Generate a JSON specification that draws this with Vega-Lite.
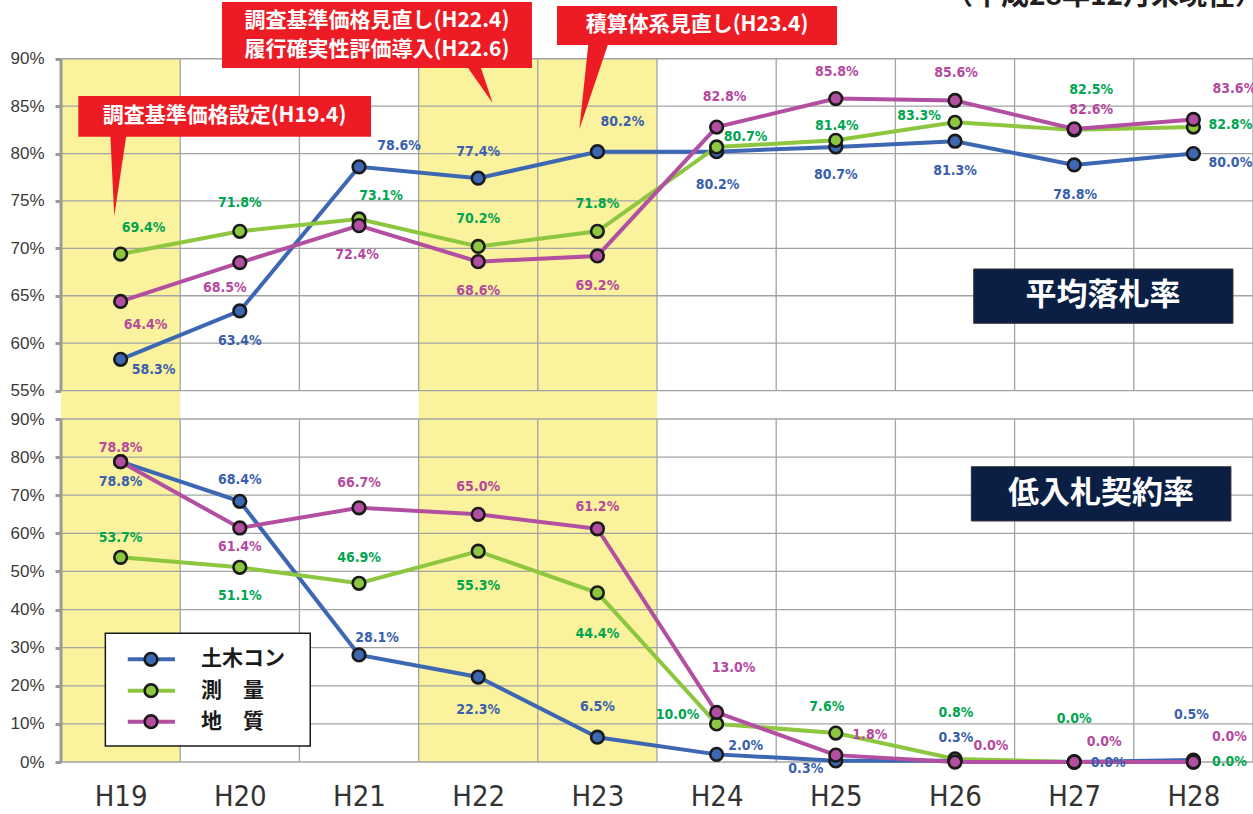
{
  "$schema": "https://vega.github.io/schema/vega-lite/v6.json",
  "padding": {"left": 9, "top": 0, "right": 0, "bottom": 0},
  "background": "white",
  "spacing": 0,
  "bounds": "flush",
  "config": {
    "view": {"stroke": null},
    "axis": {"grid": false, "domain": false, "ticks": false, "labels": false}
  },
  "datasets": {
    "avg": [
      {"year": 19, "series": "土木コン", "value": 58.3}, {"year": 20, "series": "土木コン", "value": 63.4}, {"year": 21, "series": "土木コン", "value": 78.6}, {"year": 22, "series": "土木コン", "value": 77.4}, {"year": 23, "series": "土木コン", "value": 80.2}, {"year": 24, "series": "土木コン", "value": 80.2}, {"year": 25, "series": "土木コン", "value": 80.7}, {"year": 26, "series": "土木コン", "value": 81.3}, {"year": 27, "series": "土木コン", "value": 78.8}, {"year": 28, "series": "土木コン", "value": 80.0},
      {"year": 19, "series": "測量", "value": 69.4}, {"year": 20, "series": "測量", "value": 71.8}, {"year": 21, "series": "測量", "value": 73.1}, {"year": 22, "series": "測量", "value": 70.2}, {"year": 23, "series": "測量", "value": 71.8}, {"year": 24, "series": "測量", "value": 80.7}, {"year": 25, "series": "測量", "value": 81.4}, {"year": 26, "series": "測量", "value": 83.3}, {"year": 27, "series": "測量", "value": 82.5}, {"year": 28, "series": "測量", "value": 82.8},
      {"year": 19, "series": "地質", "value": 64.4}, {"year": 20, "series": "地質", "value": 68.5}, {"year": 21, "series": "地質", "value": 72.4}, {"year": 22, "series": "地質", "value": 68.6}, {"year": 23, "series": "地質", "value": 69.2}, {"year": 24, "series": "地質", "value": 82.8}, {"year": 25, "series": "地質", "value": 85.8}, {"year": 26, "series": "地質", "value": 85.6}, {"year": 27, "series": "地質", "value": 82.6}, {"year": 28, "series": "地質", "value": 83.6}
    ],
    "low": [
      {"year": 19, "series": "土木コン", "value": 78.8}, {"year": 20, "series": "土木コン", "value": 68.4}, {"year": 21, "series": "土木コン", "value": 28.1}, {"year": 22, "series": "土木コン", "value": 22.3}, {"year": 23, "series": "土木コン", "value": 6.5}, {"year": 24, "series": "土木コン", "value": 2.0}, {"year": 25, "series": "土木コン", "value": 0.3}, {"year": 26, "series": "土木コン", "value": 0.3}, {"year": 27, "series": "土木コン", "value": 0.0}, {"year": 28, "series": "土木コン", "value": 0.5},
      {"year": 19, "series": "測量", "value": 53.7}, {"year": 20, "series": "測量", "value": 51.1}, {"year": 21, "series": "測量", "value": 46.9}, {"year": 22, "series": "測量", "value": 55.3}, {"year": 23, "series": "測量", "value": 44.4}, {"year": 24, "series": "測量", "value": 10.0}, {"year": 25, "series": "測量", "value": 7.6}, {"year": 26, "series": "測量", "value": 0.8}, {"year": 27, "series": "測量", "value": 0.0}, {"year": 28, "series": "測量", "value": 0.0},
      {"year": 19, "series": "地質", "value": 78.8}, {"year": 20, "series": "地質", "value": 61.4}, {"year": 21, "series": "地質", "value": 66.7}, {"year": 22, "series": "地質", "value": 65.0}, {"year": 23, "series": "地質", "value": 61.2}, {"year": 24, "series": "地質", "value": 13.0}, {"year": 25, "series": "地質", "value": 1.8}, {"year": 26, "series": "地質", "value": 0.0}, {"year": 27, "series": "地質", "value": 0.0}, {"year": 28, "series": "地質", "value": 0.0}
    ]
  },
  "vconcat": [
    {
      "width": 1192,
      "height": 419,
      "data": {"name": "avg"},
      "layer": [
        {"data": {"values": [{}]}, "mark": {"type": "rect", "color": "#FAF29C"},
         "encoding": {"x": {"datum": 18.5, "type": "quantitative", "scale": {"domain": [18.5, 28.5], "nice": false, "zero": false}}, "x2": {"datum": 19.5}, "y": {"datum": 52.0, "type": "quantitative", "scale": {"domain": [52.0, 96.2], "nice": false, "zero": false}}, "y2": {"datum": 90}}},
        {"data": {"values": [{}]}, "mark": {"type": "rect", "color": "#FAF29C"},
         "encoding": {"x": {"datum": 21.5, "type": "quantitative"}, "x2": {"datum": 23.5}, "y": {"datum": 52.0, "type": "quantitative"}, "y2": {"datum": 90}}},
        {"data": {"values": [{"g": 55}, {"g": 60}, {"g": 65}, {"g": 70}, {"g": 75}, {"g": 80}, {"g": 85}, {"g": 90}]},
         "mark": {"type": "rule", "color": "#A3A3A3", "strokeWidth": 1.3},
         "encoding": {"y": {"field": "g", "type": "quantitative", "title": null}}},
        {"data": {"values": [{"g": 19.5}, {"g": 20.5}, {"g": 21.5}, {"g": 22.5}, {"g": 23.5}, {"g": 24.5}, {"g": 25.5}, {"g": 26.5}, {"g": 27.5}, {"g": 28.5}]},
         "mark": {"type": "rule", "color": "#A3A3A3", "strokeWidth": 1.3},
         "encoding": {"x": {"field": "g", "type": "quantitative", "title": null}, "y": {"datum": 55, "type": "quantitative"}, "y2": {"datum": 90}}},
        {"data": {"values": [{}]}, "mark": {"type": "rule", "color": "#9A9A9A", "strokeWidth": 3},
         "encoding": {"x": {"datum": 18.5, "type": "quantitative"}, "y": {"datum": 55, "type": "quantitative"}, "y2": {"datum": 90}}},
        {"mark": {"type": "line", "strokeWidth": 4},
         "encoding": {
           "x": {"field": "year", "type": "quantitative", "title": null, "scale": {"domain": [18.5, 28.5], "nice": false, "zero": false}},
           "y": {"field": "value", "type": "quantitative", "title": null, "scale": {"domain": [52.0, 96.2], "nice": false, "zero": false},
                 "axis": {"values": [55, 60, 65, 70, 75, 80, 85, 90], "tickCount": 30, "labels": true, "labelOverlap": false, "ticks": true, "tickSize": 6, "tickWidth": 3, "tickColor": "#9A9A9A", "labelExpr": "datum.value + '%'", "labelFont": "Liberation Sans", "labelFontSize": 17, "labelColor": "#3A3A3A", "labelPadding": 11}},
           "color": {"field": "series", "type": "nominal", "scale": {"domain": ["土木コン", "測量", "地質"], "range": ["#3C67B3", "#8DC63F", "#B24FA1"]}, "legend": null}}},
        {"mark": {"type": "point", "filled": true, "size": 160, "stroke": "#1A1A1A", "strokeWidth": 2.6, "opacity": 1},
         "encoding": {"x": {"field": "year", "type": "quantitative", "title": null}, "y": {"field": "value", "type": "quantitative", "title": null},
           "color": {"field": "series", "type": "nominal", "legend": null}}},
        {"transform": [{"filter": "datum.series === '土木コン'"}, {"calculate": "format(datum.value, '.1f') + '%'", "as": "lab"}],
         "mark": {"type": "text", "font": "DejaVu Sans Condensed", "fontWeight": "bold", "fontSize": 14, "color": "#3A5FAD", "clip": true,
                  "dx": {"expr": "[33,0,40,0,25,1,0,0,1,37][datum.year-19]"}, "dy": {"expr": "[11,30,-21,-26,-30,33,28,30,30,9][datum.year-19]"}},
         "encoding": {"x": {"field": "year", "type": "quantitative", "title": null}, "y": {"field": "value", "type": "quantitative", "title": null}, "text": {"field": "lab"}}},
        {"transform": [{"filter": "datum.series === '測量'"}, {"calculate": "format(datum.value, '.1f') + '%'", "as": "lab"}],
         "mark": {"type": "text", "font": "DejaVu Sans Condensed", "fontWeight": "bold", "fontSize": 14, "color": "#00A54F", "clip": true,
                  "dx": {"expr": "[23,0,22,0,0,29,1,-36,17,37][datum.year-19]"}, "dy": {"expr": "[-26,-28,-23,-27,-27,-10,-14,-6,-40,-2][datum.year-19]"}},
         "encoding": {"x": {"field": "year", "type": "quantitative", "title": null}, "y": {"field": "value", "type": "quantitative", "title": null}, "text": {"field": "lab"}}},
        {"transform": [{"filter": "datum.series === '地質'"}, {"calculate": "format(datum.value, '.1f') + '%'", "as": "lab"}],
         "mark": {"type": "text", "font": "DejaVu Sans Condensed", "fontWeight": "bold", "fontSize": 14, "color": "#B5499E", "clip": true,
                  "dx": {"expr": "[25,-15,-2,0,0,8,1,1,17,41][datum.year-19]"}, "dy": {"expr": "[24,25,29,29,30,-30,-27,-27,-19,-30][datum.year-19]"}},
         "encoding": {"x": {"field": "year", "type": "quantitative", "title": null}, "y": {"field": "value", "type": "quantitative", "title": null}, "text": {"field": "lab"}}},
        {"data": {"values": [{}]}, "mark": {"type": "rect", "color": "#0B1F45", "stroke": "#333", "strokeWidth": 1},
         "encoding": {"x": {"datum": 26.157, "type": "quantitative"}, "x2": {"datum": 28.332}, "y": {"datum": 67.824, "type": "quantitative"}, "y2": {"datum": 62.095}}},
        {"data": {"values": [{}]}, "mark": {"type": "text", "text": "平均落札率", "font": "Noto Sans CJK JP", "fontWeight": "bold", "fontSize": 31, "color": "white"},
         "encoding": {"x": {"datum": 27.242, "type": "quantitative"}, "y": {"datum": 64.976, "type": "quantitative"}}},
        {"data": {"values": [{}]}, "mark": {"type": "rect", "color": "#ED1C24"},
         "encoding": {"x": {"datum": 18.645, "type": "quantitative"}, "x2": {"datum": 21.101}, "y": {"datum": 86.073, "type": "quantitative"}, "y2": {"datum": 81.78}}},
        {"data": {"values": [{}]}, "mark": {"type": "rect", "color": "#ED1C24"},
         "encoding": {"x": {"datum": 19.851, "type": "quantitative"}, "x2": {"datum": 22.451}, "y": {"datum": 95.989, "type": "quantitative"}, "y2": {"datum": 89.027}}},
        {"data": {"values": [{}]}, "mark": {"type": "rect", "color": "#ED1C24"},
         "encoding": {"x": {"datum": 22.661, "type": "quantitative"}, "x2": {"datum": 25.01}, "y": {"datum": 95.567, "type": "quantitative"}, "y2": {"datum": 91.453}}},
        {"data": {"values": [{}]}, "mark": {"type": "point", "shape": "M-0.198,-1L0.198,-1L-0.101,1Z", "size": 6889, "filled": true, "color": "#ED1C24", "strokeWidth": 0, "opacity": 1},
         "encoding": {"x": {"datum": 18.982, "type": "quantitative"}, "y": {"datum": 77.793, "type": "quantitative"}}},
        {"data": {"values": [{}]}, "mark": {"type": "point", "shape": "M-0.7,-1L0.03,-1L0.697,1Z", "size": 1467, "filled": true, "color": "#ED1C24", "strokeWidth": 0, "opacity": 1},
         "encoding": {"x": {"datum": 22.01, "type": "quantitative"}, "y": {"datum": 87.32, "type": "quantitative"}}},
        {"data": {"values": [{}]}, "mark": {"type": "point", "shape": "M-0.126,-1L0.337,-1L-0.337,1Z", "size": 7621, "filled": true, "color": "#ED1C24", "strokeWidth": 0, "opacity": 1},
         "encoding": {"x": {"datum": 22.972, "type": "quantitative"}, "y": {"datum": 87.165, "type": "quantitative"}}},
        {"data": {"values": [{}]}, "mark": {"type": "text", "text": "調査基準価格設定(H19.4)", "font": "Noto Sans CJK JP", "fontWeight": "bold", "fontSize": 21, "color": "white"},
         "encoding": {"x": {"datum": 19.872, "type": "quantitative"}, "y": {"datum": 83.93, "type": "quantitative"}}},
        {"data": {"values": [{}]}, "mark": {"type": "text", "text": ["調査基準価格見直し(H22.4)", "履行確実性評価導入(H22.6)"], "lineHeight": 29, "font": "Noto Sans CJK JP", "fontWeight": "bold", "fontSize": 21, "color": "white"},
         "encoding": {"x": {"datum": 21.151, "type": "quantitative"}, "y": {"datum": 93.985, "type": "quantitative"}}},
        {"data": {"values": [{}]}, "mark": {"type": "text", "text": "積算体系見直し(H23.4)", "font": "Noto Sans CJK JP", "fontWeight": "bold", "fontSize": 21, "color": "white"},
         "encoding": {"x": {"datum": 23.836, "type": "quantitative"}, "y": {"datum": 93.563, "type": "quantitative"}}},
        {"data": {"values": [{}]}, "mark": {"type": "text", "text": "（平成28年12月末現在）", "align": "right", "baseline": "alphabetic", "font": "Noto Sans CJK JP", "fontWeight": "bold", "fontSize": 28, "color": "#231F20", "clip": true},
         "encoding": {"x": {"datum": 28.584, "type": "quantitative"}, "y": {"datum": 95.67, "type": "quantitative"}}}
      ]
    },
    {
      "width": 1192,
      "height": 343,
      "data": {"name": "low"},
      "layer": [
        {"data": {"values": [{}]}, "mark": {"type": "rect", "color": "#FAF29C"},
         "encoding": {"x": {"datum": 18.5, "type": "quantitative", "scale": {"domain": [18.5, 28.5], "nice": false, "zero": false}}, "x2": {"datum": 19.5}, "y": {"datum": 0, "type": "quantitative", "scale": {"domain": [0, 90], "nice": false, "zero": false}}, "y2": {"datum": 90}}},
        {"data": {"values": [{}]}, "mark": {"type": "rect", "color": "#FAF29C"},
         "encoding": {"x": {"datum": 21.5, "type": "quantitative"}, "x2": {"datum": 23.5}, "y": {"datum": 0, "type": "quantitative"}, "y2": {"datum": 90}}},
        {"data": {"values": [{"g": 0}, {"g": 10}, {"g": 20}, {"g": 30}, {"g": 40}, {"g": 50}, {"g": 60}, {"g": 70}, {"g": 80}, {"g": 90}]},
         "mark": {"type": "rule", "color": "#A3A3A3", "strokeWidth": 1.3},
         "encoding": {"y": {"field": "g", "type": "quantitative", "title": null}}},
        {"data": {"values": [{"g": 19.5}, {"g": 20.5}, {"g": 21.5}, {"g": 22.5}, {"g": 23.5}, {"g": 24.5}, {"g": 25.5}, {"g": 26.5}, {"g": 27.5}, {"g": 28.5}]},
         "mark": {"type": "rule", "color": "#A3A3A3", "strokeWidth": 1.3},
         "encoding": {"x": {"field": "g", "type": "quantitative", "title": null}, "y": {"datum": 0, "type": "quantitative"}, "y2": {"datum": 90}}},
        {"data": {"values": [{}]}, "mark": {"type": "rule", "color": "#9A9A9A", "strokeWidth": 3},
         "encoding": {"x": {"datum": 18.5, "type": "quantitative"}, "y": {"datum": 0, "type": "quantitative"}, "y2": {"datum": 90}}},
        {"mark": {"type": "line", "strokeWidth": 4},
         "encoding": {
           "x": {"field": "year", "type": "quantitative", "title": null, "scale": {"domain": [18.5, 28.5], "nice": false, "zero": false},
                 "axis": {"values": [19, 20, 21, 22, 23, 24, 25, 26, 27, 28], "tickCount": 30, "labels": true, "labelExpr": "'H' + datum.value", "labelFont": "Liberation Sans Narrow, DejaVu Sans Condensed", "labelFontSize": 29, "labelColor": "#333333", "labelPadding": 20, "labelFlush": false, "labelOverlap": false}},
           "y": {"field": "value", "type": "quantitative", "title": null, "scale": {"domain": [0, 90], "nice": false, "zero": false},
                 "axis": {"values": [0, 10, 20, 30, 40, 50, 60, 70, 80, 90], "tickCount": 30, "labels": true, "labelOverlap": false, "ticks": true, "tickSize": 6, "tickWidth": 3, "tickColor": "#9A9A9A", "labelExpr": "datum.value + '%'", "labelFont": "Liberation Sans", "labelFontSize": 17, "labelColor": "#3A3A3A", "labelPadding": 11}},
           "color": {"field": "series", "type": "nominal", "scale": {"domain": ["土木コン", "測量", "地質"], "range": ["#3C67B3", "#8DC63F", "#B24FA1"]}, "legend": null}}},
        {"mark": {"type": "point", "filled": true, "size": 160, "stroke": "#1A1A1A", "strokeWidth": 2.6, "opacity": 1},
         "encoding": {"x": {"field": "year", "type": "quantitative", "title": null}, "y": {"field": "value", "type": "quantitative", "title": null},
           "color": {"field": "series", "type": "nominal", "legend": null}}},
        {"transform": [{"filter": "datum.series === '土木コン'"}, {"calculate": "format(datum.value, '.1f') + '%'", "as": "lab"}],
         "mark": {"type": "text", "font": "DejaVu Sans Condensed", "fontWeight": "bold", "fontSize": 14, "color": "#3A5FAD",
                  "dx": {"expr": "[0,0,18,0,0,29,-30,1,34,-2][datum.year-19]"}, "dy": {"expr": "[20,-21,-17,33,-30,-8,8,-23,1,-45][datum.year-19]"}},
         "encoding": {"x": {"field": "year", "type": "quantitative", "title": null}, "y": {"field": "value", "type": "quantitative", "title": null}, "text": {"field": "lab"}}},
        {"transform": [{"filter": "datum.series === '測量'"}, {"calculate": "format(datum.value, '.1f') + '%'", "as": "lab"}],
         "mark": {"type": "text", "font": "DejaVu Sans Condensed", "fontWeight": "bold", "fontSize": 14, "color": "#00A54F",
                  "dx": {"expr": "[0,0,0,0,0,-39,-9,1,0,36][datum.year-19]"}, "dy": {"expr": "[-19,29,-25,35,41,-9,-26,-46,-43,0][datum.year-19]"}},
         "encoding": {"x": {"field": "year", "type": "quantitative", "title": null}, "y": {"field": "value", "type": "quantitative", "title": null}, "text": {"field": "lab"}}},
        {"transform": [{"filter": "datum.series === '地質'"}, {"calculate": "format(datum.value, '.1f') + '%'", "as": "lab"}],
         "mark": {"type": "text", "font": "DejaVu Sans Condensed", "fontWeight": "bold", "fontSize": 14, "color": "#B5499E",
                  "dx": {"expr": "[0,0,0,0,0,17,34,36,30,36][datum.year-19]"}, "dy": {"expr": "[-14,19,-25,-27,-22,-44,-20,-16,-20,-25][datum.year-19]"}},
         "encoding": {"x": {"field": "year", "type": "quantitative", "title": null}, "y": {"field": "value", "type": "quantitative", "title": null}, "text": {"field": "lab"}}},
        {"data": {"values": [{}]}, "mark": {"type": "rect", "color": "#0B1F45", "stroke": "#333", "strokeWidth": 1},
         "encoding": {"x": {"datum": 26.137, "type": "quantitative"}, "x2": {"datum": 28.315}, "y": {"datum": 77.48, "type": "quantitative"}, "y2": {"datum": 63.24}}},
        {"data": {"values": [{}]}, "mark": {"type": "text", "text": "低入札契約率", "font": "Noto Sans CJK JP", "fontWeight": "bold", "fontSize": 31, "color": "white"},
         "encoding": {"x": {"datum": 27.225, "type": "quantitative"}, "y": {"datum": 70.32, "type": "quantitative"}}},
        {"data": {"values": [{}]}, "mark": {"type": "rect", "fill": "white", "stroke": "#1A1A1A", "strokeWidth": 1.5},
         "encoding": {"x": {"datum": 18.872, "type": "quantitative"}, "x2": {"datum": 20.591}, "y": {"datum": 33.77, "type": "quantitative"}, "y2": {"datum": 4.19}}},
        {"data": {"values": [{}]}, "mark": {"type": "rule", "color": "#3C67B3", "strokeWidth": 4},
         "encoding": {"x": {"datum": 19.06, "type": "quantitative"}, "x2": {"datum": 19.456}, "y": {"datum": 26.95, "type": "quantitative"}}},
        {"data": {"values": [{}]}, "mark": {"type": "rule", "color": "#8DC63F", "strokeWidth": 4},
         "encoding": {"x": {"datum": 19.06, "type": "quantitative"}, "x2": {"datum": 19.456}, "y": {"datum": 18.71, "type": "quantitative"}}},
        {"data": {"values": [{}]}, "mark": {"type": "rule", "color": "#B24FA1", "strokeWidth": 4},
         "encoding": {"x": {"datum": 19.06, "type": "quantitative"}, "x2": {"datum": 19.456}, "y": {"datum": 10.57, "type": "quantitative"}}},
        {"data": {"values": [{}]}, "mark": {"type": "point", "filled": true, "size": 160, "fill": "#3C67B3", "stroke": "#1A1A1A", "strokeWidth": 2.6, "opacity": 1},
         "encoding": {"x": {"datum": 19.255, "type": "quantitative"}, "y": {"datum": 26.95, "type": "quantitative"}}},
        {"data": {"values": [{}]}, "mark": {"type": "point", "filled": true, "size": 160, "fill": "#8DC63F", "stroke": "#1A1A1A", "strokeWidth": 2.6, "opacity": 1},
         "encoding": {"x": {"datum": 19.255, "type": "quantitative"}, "y": {"datum": 18.71, "type": "quantitative"}}},
        {"data": {"values": [{}]}, "mark": {"type": "point", "filled": true, "size": 160, "fill": "#B24FA1", "stroke": "#1A1A1A", "strokeWidth": 2.6, "opacity": 1},
         "encoding": {"x": {"datum": 19.255, "type": "quantitative"}, "y": {"datum": 10.57, "type": "quantitative"}}},
        {"data": {"values": [{}]}, "mark": {"type": "text", "text": "土木コン", "align": "left", "font": "Noto Sans CJK JP", "fontWeight": "bold", "fontSize": 21, "color": "#1A1A1A"},
         "encoding": {"x": {"datum": 19.674, "type": "quantitative"}, "y": {"datum": 26.95, "type": "quantitative"}}},
        {"data": {"values": [{}]}, "mark": {"type": "text", "text": "測　量", "align": "left", "font": "Noto Sans CJK JP", "fontWeight": "bold", "fontSize": 21, "color": "#1A1A1A"},
         "encoding": {"x": {"datum": 19.674, "type": "quantitative"}, "y": {"datum": 18.71, "type": "quantitative"}}},
        {"data": {"values": [{}]}, "mark": {"type": "text", "text": "地　質", "align": "left", "font": "Noto Sans CJK JP", "fontWeight": "bold", "fontSize": 21, "color": "#1A1A1A"},
         "encoding": {"x": {"datum": 19.674, "type": "quantitative"}, "y": {"datum": 10.57, "type": "quantitative"}}}
      ]
    }
  ]
}
